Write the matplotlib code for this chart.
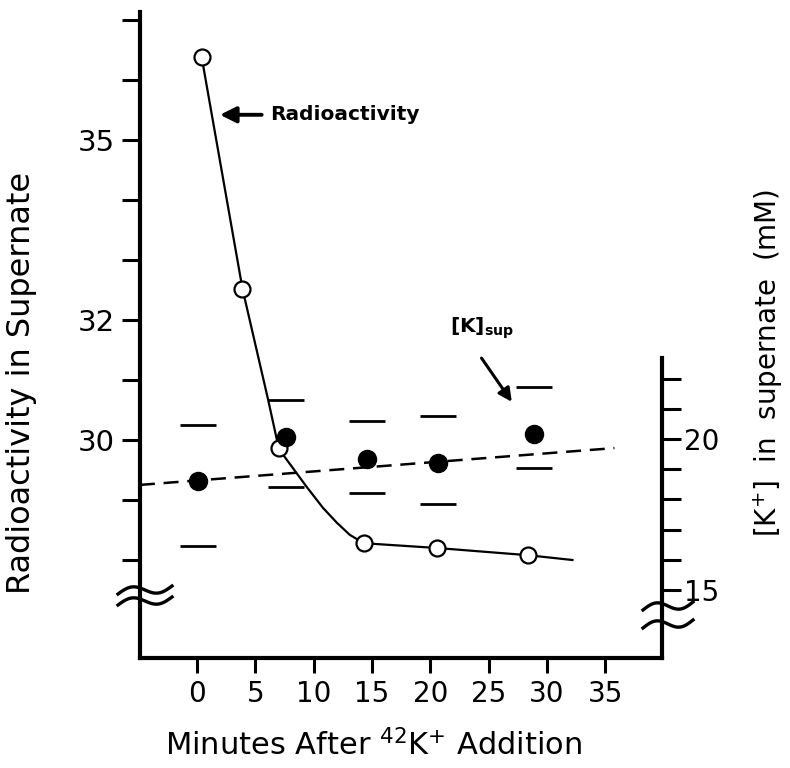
import numpy as np
import matplotlib
matplotlib.use("Agg")
import matplotlib.pyplot as plt
from matplotlib.lines import Line2D

# ---------------- data ----------------
# Radioactivity in supernate (left axis) - open circles
rad_time = [0.4, 3.9, 7.0, 14.3, 20.6, 28.4]
rad_value = [36.38, 32.52, 29.87, 28.28, 28.20, 28.08]
# hand-drawn smooth curve through the radioactivity points (traced)
curve_time = [0.4, 3.9, 6.1, 7.0, 7.4, 9.4, 10.8, 12.0, 13.1, 14.3, 20.6, 28.4, 32.2]
curve_value = [36.38, 32.52, 30.67, 29.87, 29.75, 29.22, 28.87, 28.62, 28.42, 28.28, 28.20, 28.08, 28.00]

# [K] in supernate (right axis) - filled circles with upper/lower range dashes
k_time = [0.1, 7.6, 14.6, 20.7, 28.9]
k_value = [18.61, 20.08, 19.34, 19.20, 20.17]
k_upper = [20.46, 21.29, 20.60, 20.76, 21.72]
k_lower = [16.46, 18.41, 18.21, 17.85, 19.04]
# dashed trend line for [K]sup (end points)
fit_time = [-4.9, 35.8]
fit_value = [18.48, 19.70]

x_ticks = [0, 5, 10, 15, 20, 25, 30, 35]
left_ticks = [28, 29, 30, 31, 32, 33, 34, 35, 36, 37]
left_labels = ["", "", "30", "", "32", "", "", "35", "", ""]
right_ticks = [15, 16, 17, 18, 19, 20, 21, 22]
right_labels = ["15", "", "", "", "", "20", "", ""]

# annotation anchors (data units)
rad_arrow_tip = (1.97, 35.42)
rad_text_pos = (6.26, 35.42)
k_text_pos = (21.7, 23.68)
k_arrow_tail = (24.4, 22.68)
k_arrow_tip = (27.0, 21.23)

# ---------------- figure ----------------
W, H = 790, 768
fig = plt.figure(figsize=(W / 100, H / 100), dpi=100)
L, R, B, T = 140, 662, 658, 12
ax = fig.add_axes([L / W, 1 - B / H, (R - L) / W, (B - T) / H])
ax2 = ax.twinx()

ax.set_xlim(-4.89, 39.88)
ax.set_ylim(26.367, 37.133)
ax2.set_ylim(12.748, 34.14)

lw_spine = 3.0
for s in ["top", "right"]:
    ax.spines[s].set_visible(False)
for s in ["left", "bottom"]:
    ax.spines[s].set_linewidth(lw_spine)
for s in ["top", "left", "bottom"]:
    ax2.spines[s].set_visible(False)
ax2.spines["right"].set_linewidth(lw_spine)
ax2.spines["right"].set_bounds(12.748, 22.68)

ax.set_xticks(x_ticks)
ax.set_xticklabels([str(t) for t in x_ticks])
ax.set_yticks(left_ticks)
ax.set_yticklabels(left_labels)
ax2.set_yticks(right_ticks)
ax2.set_yticklabels(right_labels)

ax.tick_params(axis="x", direction="out", length=11, width=2.2, pad=5, labelsize=20)
ax.tick_params(axis="y", direction="out", length=13, width=2.2, pad=5, labelsize=21)
ax2.tick_params(axis="y", direction="out", length=14, width=2.2, pad=2, labelsize=20)

# radioactivity curve and points
ax.plot(curve_time, curve_value, color="black", lw=1.6, zorder=2)
ax.plot(rad_time, rad_value, ls="none", marker="o", ms=11.5, mfc="white",
        mec="black", mew=1.6, zorder=3)

# [K]sup
ax2.plot(fit_time, fit_value, color="black", lw=1.8, dashes=(6, 3.5), zorder=2)
ax2.plot(k_time, k_upper, ls="none", marker="_", ms=26, mew=2.0, color="black")
ax2.plot(k_time, k_lower, ls="none", marker="_", ms=26, mew=2.0, color="black")
ax2.plot(k_time, k_value, ls="none", marker="o", ms=13, color="black", zorder=4)

# annotations
ax.annotate("Radioactivity", xy=rad_arrow_tip, xytext=rad_text_pos,
            ha="left", va="center", fontsize=14.5, fontweight="bold",
            arrowprops=dict(arrowstyle="-|>", lw=2.8, color="black",
                            mutation_scale=24, shrinkA=4, shrinkB=0))
ax2.text(k_text_pos[0], k_text_pos[1], "[K]$_{\\bf sup}$", ha="left", va="center",
         fontsize=14.5, fontweight="bold")
ax2.annotate("", xy=k_arrow_tip, xytext=k_arrow_tail,
             arrowprops=dict(arrowstyle="-|>", lw=2.2, color="black",
                             mutation_scale=20, shrinkA=0, shrinkB=0))

# axis labels
fig.text(22 / W, 1 - 383 / H, "Radioactivity in Supernate", rotation=90,
         ha="center", va="center", fontsize=23)
fig.text(768 / W, 1 - 363 / H, "[K$^{+}$]  in  supernate  (mM)", rotation=90,
         ha="center", va="center", fontsize=20)
fig.text(374 / W, 1 - 745 / H, "Minutes After $^{42}$K$^{+}$ Addition",
         ha="center", va="center", fontsize=22)


# axis break marks (decoration)
def wave(cx, cy, w, amp, tilt):
    t = np.linspace(-1, 1, 60)
    px = cx + t * w / 2
    py = cy + amp * np.sin(np.pi * t) - tilt * t
    fig.add_artist(Line2D(px / W, 1 - py / H, color="black", lw=2.4,
                          transform=fig.transFigure))


wave(145, 590, 54, 5, 4)
wave(145, 601, 54, 5, 4)
wave(668, 606, 50, 5, 4)
wave(668, 624, 50, 5, 4)

fig.savefig("out.png", dpi=100)
